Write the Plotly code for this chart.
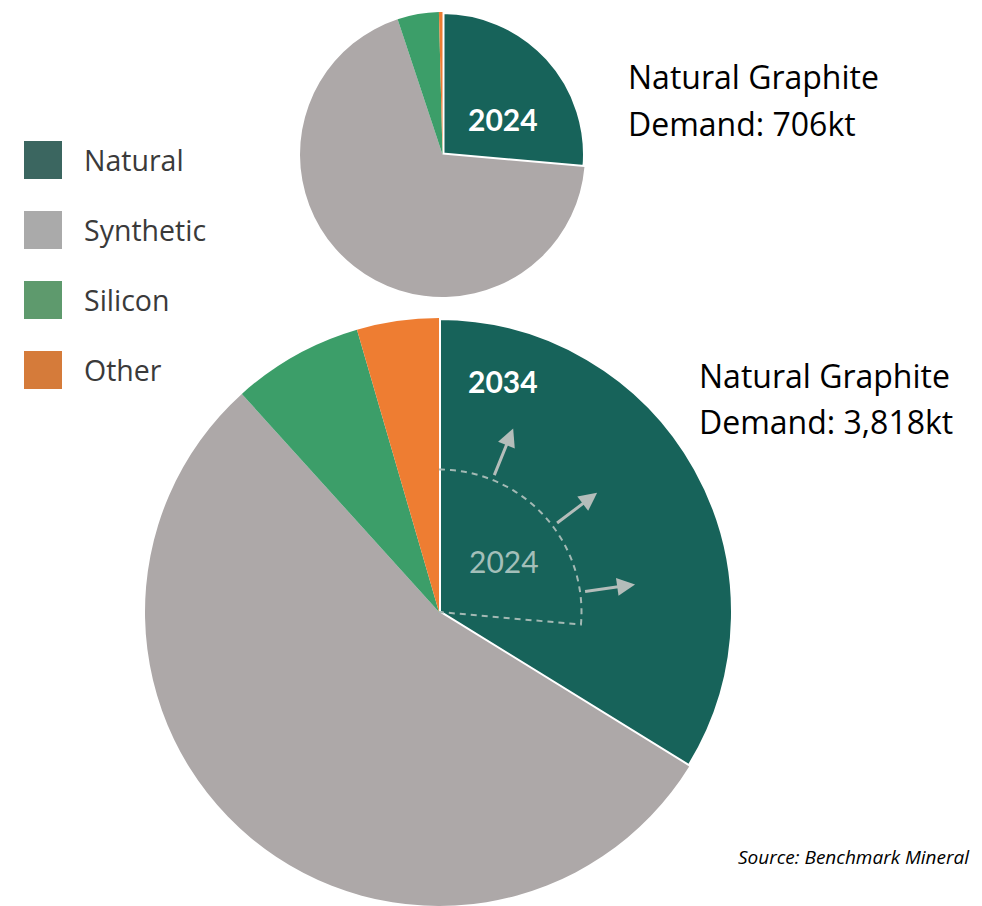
import numpy as np
import plotly.graph_objects as go

# --- data -------------------------------------------------------------
categories = ["Natural", "Synthetic", "Silicon", "Other"]
share_2024 = [26.4, 68.5, 4.7, 0.4]   # % of anode demand, 2024
share_2034 = [33.8, 54.5, 7.2, 4.5]   # % of anode demand, 2034
natural_demand_kt = {"2024": 706, "2034": 3818}
arrow_angles = [22, 53, 82]           # degrees clockwise from 12 o'clock

pie_colors = ["#17635A", "#ADA8A8", "#3C9E69", "#EE7D32"]
legend_colors = ["#3B6660", "#AAAAAA", "#5E9A6D", "#D57B3A"]

W, H = 982, 906


def px(x):
    return x / W


def py(y):
    return 1 - y / H


# pie placement in pixels: centre x, centre y, radius
top_c = (442.5, 154.5, 142.5)
bot_c = (439, 612, 294)


def dom(c):
    cx, cy, r = c
    return dict(x=[px(cx - r), px(cx + r)], y=[py(cy + r), py(cy - r)])


fig = go.Figure()
for shares, c in [(share_2024, top_c), (share_2034, bot_c)]:
    fig.add_trace(go.Pie(
        labels=categories, values=shares, sort=False, direction="clockwise",
        rotation=0, textinfo="none", hoverinfo="label+percent",
        marker=dict(colors=pie_colors, line=dict(color="white", width=[4, 0, 0, 0])),
        domain=dom(c)))

shapes = []
annots = []

# legend squares + labels
for i, (name, col) in enumerate(zip(categories, legend_colors)):
    yc = 160 + 70 * i
    shapes.append(dict(type="rect", xref="paper", yref="paper",
                       x0=px(24), x1=px(62), y0=py(yc + 19), y1=py(yc - 19),
                       fillcolor=col, line=dict(width=0)))
    annots.append(dict(text=name, x=px(82), y=py(yc), xanchor="left", yanchor="middle",
                       font=dict(family="Open Sans", size=28.5, color="#3A3A3A")))

# 2024 natural slice outline drawn inside the 2034 pie (same scale)
cx, cy, _ = bot_c
r_old = top_c[2]
end = share_2024[0] / 100 * 2 * np.pi
th = np.linspace(0, end, 80)
pts = [(cx + r_old * np.sin(t), cy - r_old * np.cos(t)) for t in th] + [(cx, cy)]
path = "M " + " L ".join(f"{px(x):.5f},{py(y):.5f}" for x, y in pts)
shapes.append(dict(type="path", path=path, xref="paper", yref="paper", layer="above",
                   line=dict(color="#A3B9B4", width=2, dash="6px,5px")))

# growth arrows
for a in arrow_angles:
    t = np.radians(a)
    hx, hy = cx + 198 * np.sin(t), cy - 198 * np.cos(t)
    tx, ty = cx + 146 * np.sin(t), cy - 146 * np.cos(t)
    annots.append(dict(x=px(hx), y=py(hy), ax=tx - hx, ay=ty - hy, text="",
                       showarrow=True, arrowhead=2, arrowsize=1.2, arrowwidth=3,
                       arrowcolor="#B4BDBA", standoff=0))

# year labels
annots.append(dict(text="<b>2024</b>", x=px(503), y=py(99), showarrow=False,
                   font=dict(family="Lato", size=30, color="white")))
annots.append(dict(text="<b>2034</b>", x=px(503), y=py(381), showarrow=False,
                   font=dict(family="Lato", size=30, color="white")))
annots.append(dict(text="2024", x=px(504), y=py(561), showarrow=False,
                   font=dict(family="Lato", size=30, color="#A3BFB9")))

# demand call-outs
callouts = [(natural_demand_kt["2024"], 626, 77), (natural_demand_kt["2034"], 697, 375)]
for v, x0, y0 in callouts:
    annots.append(dict(text="Natural Graphite", x=px(x0), y=py(y0), xanchor="left",
                       yanchor="middle", showarrow=False,
                       font=dict(family="Open Sans", size=32, color="black")))
    annots.append(dict(text=f"Demand: {v:,}kt", x=px(x0), y=py(y0 + 46), xanchor="left",
                       yanchor="middle", showarrow=False,
                       font=dict(family="Open Sans", size=32, color="black")))

annots.append(dict(text="<i>Source: Benchmark Mineral</i>", x=px(736), y=py(857),
                   xanchor="left", yanchor="middle", showarrow=False,
                   font=dict(family="Open Sans", size=19, color="black")))

for a in annots:
    a.setdefault("xref", "paper")
    a.setdefault("yref", "paper")
    a.setdefault("showarrow", False)
    if a.get("showarrow"):
        a["axref"] = "pixel"
        a["ayref"] = "pixel"

fig.update_layout(width=W, height=H, margin=dict(l=0, r=0, t=0, b=0),
                  paper_bgcolor="white", plot_bgcolor="white", showlegend=False,
                  shapes=shapes, annotations=annots)
fig.write_html("out.html", config={"displayModeBar": False},
               post_script="document.body.style.margin='0';")
